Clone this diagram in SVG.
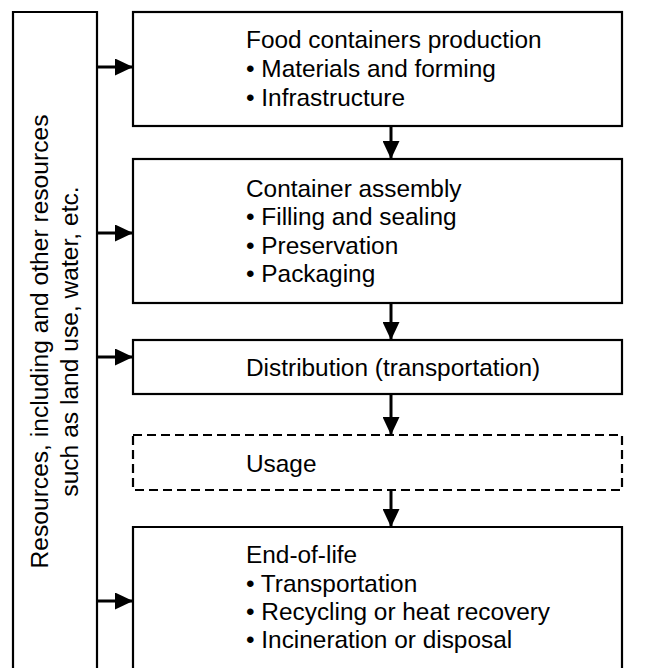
<svg xmlns="http://www.w3.org/2000/svg" width="649" height="668" viewBox="0 0 649 668">
<style>
.box{fill:#fff;stroke:#000;stroke-width:2.2}
.dash{fill:#fff;stroke:#000;stroke-width:2.2;stroke-dasharray:9 5}
.t{font-family:"Liberation Sans",Arial,sans-serif;font-size:24.4px;fill:#000}
.v{font-size:24.6px}
.c{stroke:#000;stroke-width:3;fill:none}
</style>
<defs>
<marker id="ah" markerUnits="userSpaceOnUse" markerWidth="18" markerHeight="17" refX="18" refY="8.5" orient="auto">
<path d="M0,0 L18,8.5 L0,17 Z" fill="#000"/>
</marker>
</defs>
<rect width="649" height="668" fill="#fff"/>
<g id="resources">
<path class="box" d="M13,700 V12 H97 V700"/>
<text class="t v" text-anchor="middle" transform="translate(48,341.5) rotate(-90)">Resources, including and other resources</text>
<text class="t v" text-anchor="middle" transform="translate(78,341.5) rotate(-90)">such as land use, water, etc.</text>
</g>
<g id="production">
<rect class="box" x="133" y="12" width="489" height="114"/>
<text class="t" x="246" y="47.5">Food containers production</text>
<text class="t" x="246" y="77">• Materials and forming</text>
<text class="t" x="246" y="106">• Infrastructure</text>
</g>
<g id="assembly">
<rect class="box" x="133" y="159" width="489" height="144"/>
<text class="t" x="246" y="197">Container assembly</text>
<text class="t" x="246" y="225">• Filling and sealing</text>
<text class="t" x="246" y="253.5">• Preservation</text>
<text class="t" x="246" y="282">• Packaging</text>
</g>
<g id="distribution">
<rect class="box" x="133" y="340" width="489" height="54"/>
<text class="t" x="246" y="376">Distribution (transportation)</text>
</g>
<g id="usage">
<rect class="dash" x="133" y="435" width="489" height="55"/>
<text class="t" x="246" y="471.5">Usage</text>
</g>
<g id="endoflife">
<path class="box" d="M133,700 V527 H622 V700"/>
<text class="t" x="246" y="563">End-of-life</text>
<text class="t" x="246" y="592">• Transportation</text>
<text class="t" x="246" y="620">• Recycling or heat recovery</text>
<text class="t" x="246" y="648">• Incineration or disposal</text>
</g>
<g id="connectors">
<line class="c" x1="97" y1="67" x2="133" y2="67" marker-end="url(#ah)"/>
<line class="c" x1="97" y1="233" x2="133" y2="233" marker-end="url(#ah)"/>
<line class="c" x1="97" y1="357" x2="133" y2="357" marker-end="url(#ah)"/>
<line class="c" x1="97" y1="601" x2="133" y2="601" marker-end="url(#ah)"/>
<line class="c" x1="391" y1="126" x2="391" y2="159" marker-end="url(#ah)"/>
<line class="c" x1="391" y1="303" x2="391" y2="340" marker-end="url(#ah)"/>
<line class="c" x1="391" y1="394" x2="391" y2="435" marker-end="url(#ah)"/>
<line class="c" x1="391" y1="490" x2="391" y2="527" marker-end="url(#ah)"/>
</g>
</svg>
